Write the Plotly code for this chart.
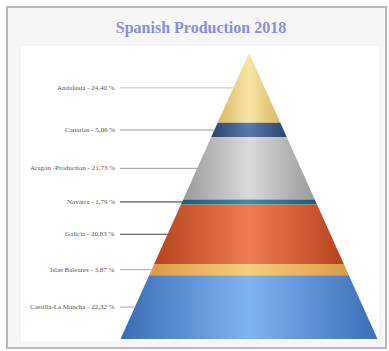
import plotly.graph_objects as go

# Data
regions = ["Andalusia", "Canarias", "Aragón -Production", "Navarra", "Galicia",
           "Islas Baleares", "Castilla-La Mancha"]
shares = [24.40, 5.06, 21.73, 1.79, 20.83, 3.87, 22.32]
share_labels = ["24,40", "5,06", "21,73", "1,79", "20,83", "3,87", "22,32"]
title_text = "Spanish Production 2018"

edge_colors = ["#d8b862", "#27466f", "#9a9a9a", "#1e5a74", "#b5441d", "#d99b45", "#3b6db5"]
mid_colors = ["#f8e4a4", "#587aa8", "#dadada", "#3f8cab", "#ee7c52", "#f8cf7c", "#80b3f2"]
line_colors = ["#bbbbbb", "#999999", "#999999", "#333344", "#444444", "#aaaaaa", "#aaaaaa"]

W, H = 389, 351
cx_px, apex_px, base_px, half_base_px = 249, 53, 339, 128.5
ypx = (base_px - apex_px) / 100.0

fig = go.Figure()

# pyramid built from the top (apex = 100) downward
total = sum(shares)
top = 100.0
for i, (name, v) in enumerate(zip(regions, shares)):
    h = v / total * 100.0
    bot = top - h
    wt = (100.0 - top) / 100.0
    wb = (100.0 - bot) / 100.0
    fig.add_trace(go.Scatter(
        x=[-wt, wt, wb, -wb, -wt], y=[top, top, bot, bot, top],
        mode="lines", line=dict(width=0), fill="toself",
        fillgradient=dict(type="horizontal",
                          colorscale=[[0, edge_colors[i]], [0.5, mid_colors[i]], [1, edge_colors[i]]]),
        hoverinfo="skip", showlegend=False))
    mid = (top + bot) / 2.0
    wm = (100.0 - mid) / 100.0
    x_lab = (117 - cx_px) / half_base_px
    x_start = (120 - cx_px) / half_base_px
    fig.add_trace(go.Scatter(
        x=[x_start, -wm], y=[mid, mid], mode="lines",
        line=dict(color=line_colors[i], width=1), hoverinfo="skip", showlegend=False))
    fig.add_annotation(x=x_lab, y=mid, xref="x", yref="y", xanchor="right", yanchor="middle",
                       text=f"{name} - {share_labels[i]} %", showarrow=False,
                       font=dict(family="Liberation Serif", size=7, color="#555555"))
    top = bot

# frame
fig.add_shape(type="rect", xref="paper", yref="paper", layer="below",
              x0=7 / W, x1=386 / W, y0=1 - 348 / H, y1=1 - 7 / H,
              fillcolor="#f6f6f6", line=dict(color="#b8b8b8", width=2))
fig.add_shape(type="rect", xref="paper", yref="paper", layer="below",
              x0=20 / W, x1=380 / W, y0=1 - 342 / H, y1=1 - 45 / H,
              fillcolor="#ffffff", line=dict(color="#eeeeee", width=1))

fig.update_layout(
    width=W, height=H, margin=dict(l=0, r=0, t=0, b=0),
    paper_bgcolor="#ffffff", plot_bgcolor="rgba(0,0,0,0)",
    title=dict(text=f"<b>{title_text}</b>", x=201 / W, xanchor="center", y=1 - 27 / H, yanchor="middle",
               font=dict(family="Liberation Serif", size=16, color="#8a8ed6")),
    xaxis=dict(range=[-cx_px / half_base_px, (W - cx_px) / half_base_px], visible=False, fixedrange=True),
    yaxis=dict(range=[(base_px - H) / ypx, base_px / ypx], visible=False, fixedrange=True),
)

fig.write_html("out.html")
